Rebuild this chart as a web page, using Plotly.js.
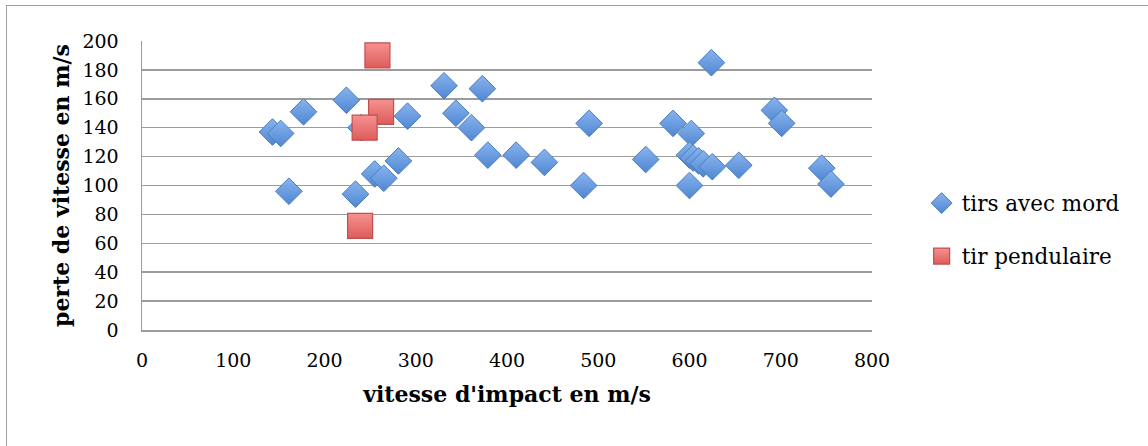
<!DOCTYPE html>
<html>
<head>
<meta charset="utf-8">
<script src="https://cdn.plot.ly/plotly-3.0.1.min.js"></script>
<style>
html,body{margin:0;padding:0;background:#fff;overflow:hidden;}
#wrap{position:relative;width:1148px;height:446px;overflow:hidden;}
#chart{width:1148px;height:446px;}
#frame{position:absolute;left:6px;top:5px;width:1300px;height:600px;border:1.5px solid #a0a0a0;pointer-events:none;}
</style>
</head>
<body>
<div id="wrap"><div id="chart"></div><div id="frame"></div></div>
<script>
// Data
var mordX = [143,152,177,161,224,234,240,291,255,265,281,331,373,344,361,379,410,441,484,490,552,582,602,600,600,604,610,615,625,624,654,693,701,745,755];
var mordY = [137,136,151,96,159,94,140,148,108,105,117,169,167,150,140,121,121,116,100,143,118,143,136,121,100,119,117,115,113,185,114,152,143,112,101];
var pendX = [258,262,244,239];
var pendY = [190,151,140,72];
var seriesNames = ["tirs avec mord", "tir pendulaire"];
var xTitle = "vitesse d'impact en m/s";
var yTitle = "perte de vitesse en m/s";

var FONT = "DejaVu Serif, Liberation Serif, serif";

var traces = [
  {
    type: 'scatter', mode: 'markers', name: seriesNames[0], legendgroup: 'a',
    x: mordX, y: mordY,
    marker: {symbol: 'diamond', size: 20.5, color: '#88b4ee',
      gradient: {type: 'vertical', color: '#4f86d2'},
      line: {color: '#4a7ebb', width: 1}}
  },
  {
    type: 'scatter', mode: 'markers', name: seriesNames[1], legendgroup: 'b',
    x: pendX, y: pendY,
    marker: {symbol: 'square', size: 25, color: '#f59290',
      gradient: {type: 'vertical', color: '#dd5c59'},
      line: {color: '#c0504d', width: 1.2}}
  }
];

var layout = {
  width: 1148, height: 446,
  margin: {l: 142, r: 276, t: 41, b: 116, pad: 0},
  paper_bgcolor: '#ffffff', plot_bgcolor: '#ffffff',
  font: {family: FONT, color: '#000000', size: 19},
  showlegend: true,
  legend: {x: 1.068, xanchor: 'left', y: 0.51, yanchor: 'top',
    font: {family: FONT, size: 21.5, color: '#000'},
    traceorder: 'grouped', tracegroupgap: 22, itemwidth: 30,
    bgcolor: 'rgba(0,0,0,0)'},
  xaxis: {
    range: [0, 800], dtick: 100, tick0: 0, showgrid: false, zeroline: false,
    showline: true, linecolor: '#9c9c9c', linewidth: 1.5,
    ticks: '', ticklabelstandoff: 13,
    tickfont: {family: FONT, size: 19, color: '#000'},
    title: {text: xTitle, font: {family: FONT, size: 22, color: '#000', weight: 'bold'}, standoff: 16},
    fixedrange: true
  },
  yaxis: {
    range: [0, 200], dtick: 20, tick0: 0, showgrid: true, gridcolor: '#9c9c9c', gridwidth: 1.5,
    zeroline: false, showline: true, linecolor: '#9c9c9c', linewidth: 1.5,
    ticks: '', ticklabelstandoff: 18,
    tickfont: {family: FONT, size: 19, color: '#000'},
    title: {text: yTitle, font: {family: FONT, size: 22, color: '#000', weight: 'bold'}, standoff: 6},
    fixedrange: true
  }
};

Plotly.newPlot('chart', traces, layout, {displayModeBar: false, staticPlot: true});
</script>
</body>
</html>
